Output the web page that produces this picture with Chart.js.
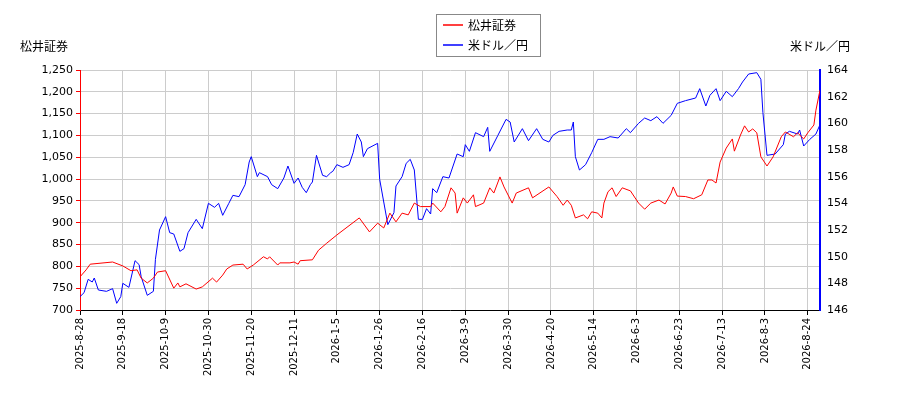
<!DOCTYPE html>
<html><head><meta charset="utf-8">
<script src="https://cdn.jsdelivr.net/npm/chart.js@4/dist/chart.umd.min.js"></script>
<style>body{margin:0;background:#fff}#w{width:900px;height:400px}</style></head>
<body><div id="w"><canvas id="c"></canvas></div>
<script>
const tickLabels=["2025-8-28","2025-9-18","2025-10-9","2025-10-30","2025-11-20","2025-12-11","2026-1-5","2026-1-26","2026-2-16","2026-3-9","2026-3-30","2026-4-20","2026-5-14","2026-6-3","2026-6-23","2026-7-13","2026-8-3","2026-8-24"];
const redDays=[0,3,5,16,21,25,28,30,33,36,38,42,46,48,49,52,57,60,65,67,70,72,75,80,82,85,90,92,93,97,98,103,105,107,108,114,117,121,126,137,142,146,149,152,155,158,161,164,167,172,173,177,179,182,184,185,188,190,193,194,198,201,203,206,208,212,214,220,222,230,234,237,239,241,243,247,249,251,254,256,257,259,261,263,266,270,274,277,280,284,287,290,291,293,297,301,305,308,310,312,314,317,320,321,324,326,328,330,332,334,337,340,344,346,350,352,355,357,360,361,363];
const redVals=[776,792,805,810,801,790,792,773,762,773,787,790,750,762,753,760,748,753,773,764,780,794,803,805,794,803,822,817,822,803,808,808,810,805,813,815,837,853,872,911,879,899,888,922,902,922,918,945,937,937,945,925,937,980,968,922,957,945,964,937,945,980,968,1005,982,945,968,980,957,982,960,940,952,940,911,918,909,925,922,911,945,971,980,960,980,973,945,931,945,952,943,968,982,961,960,955,964,998,998,991,1039,1071,1092,1064,1101,1122,1108,1115,1106,1051,1030,1051,1097,1108,1097,1106,1092,1106,1124,1158,1204];
const blueDays=[0,2,4,6,7,9,13,16,18,20,21,24,27,29,30,33,36,37,39,42,44,46,49,51,53,57,60,63,66,68,70,73,75,78,81,83,84,87,88,92,94,97,100,102,105,107,109,111,113,114,116,119,121,123,124,126,129,132,134,136,138,139,141,146,147,151,154,155,158,160,162,164,166,168,170,172,173,175,178,181,185,188,189,191,194,198,200,201,205,209,211,213,217,220,224,227,230,232,235,239,241,242,243,245,248,251,254,257,260,264,268,270,274,277,280,283,286,290,293,297,302,304,307,309,312,314,317,320,323,325,328,332,334,335,337,341,345,346,348,352,353,355,358,361,363];
const blueVals=[147.0,147.3,148.3,148.1,148.4,147.5,147.4,147.6,146.5,147.0,148.0,147.7,149.7,149.4,148.5,147.1,147.4,149.8,152.0,153.0,151.8,151.7,150.4,150.6,151.8,152.8,152.1,154.0,153.7,154.0,153.1,154.0,154.6,154.5,155.4,157.1,157.5,156.0,156.3,156.0,155.4,155.1,155.9,156.8,155.5,155.9,155.2,154.8,155.4,155.6,157.6,156.1,156.0,156.3,156.4,156.9,156.7,156.9,157.8,159.2,158.6,157.5,158.1,158.5,155.8,152.4,153.3,155.3,156.0,157.0,157.3,156.5,152.8,152.8,153.6,153.2,155.1,154.8,156.0,155.9,157.7,157.5,158.4,157.9,159.3,159.0,159.7,157.9,159.1,160.3,160.1,158.6,159.6,158.7,159.6,158.8,158.6,159.1,159.4,159.5,159.5,160.1,157.5,156.5,156.9,157.8,158.8,158.8,159.0,158.9,159.6,159.3,160.0,160.4,160.2,160.5,160.0,160.6,161.5,161.7,161.9,162.6,161.3,162.1,162.6,161.7,162.4,162.0,162.6,163.1,163.7,163.8,163.3,160.8,157.6,157.7,158.4,159.2,159.4,159.2,159.5,158.3,158.8,159.2,159.9];
const toPts=(d,v)=>d.map((x,i)=>({x:x,y:v[i]}));
const deco={id:'deco',afterDraw(ch){const c=ch.ctx;c.save();
c.font='12px "Noto Sans CJK JP"';c.fillStyle='#000';c.textBaseline='middle';
c.textAlign='left';c.fillText('松井証券',20,46);c.textAlign='right';c.fillText('米ドル／円',850,46);
c.strokeStyle='#888';c.lineWidth=1;c.strokeRect(436.5,14.5,104,42);
c.lineWidth=1.5;c.strokeStyle='red';c.beginPath();c.moveTo(443,25);c.lineTo(463,25);c.stroke();
c.strokeStyle='blue';c.beginPath();c.moveTo(443,45);c.lineTo(463,45);c.stroke();
c.textAlign='left';c.fillText('松井証券',468,25);c.fillText('米ドル／円',468,45);c.restore();}};
new Chart(document.getElementById('c'),{type:'line',
data:{datasets:[
{label:'松井証券',data:toPts(redDays,redVals),borderColor:'red',borderWidth:1,pointRadius:0,yAxisID:'y',tension:0},
{label:'米ドル／円',data:toPts(blueDays,blueVals),borderColor:'blue',borderWidth:1,pointRadius:0,yAxisID:'y1',tension:0}]},
options:{responsive:true,maintainAspectRatio:false,animation:false,
layout:{padding:{top:70,left:0,right:0,bottom:0}},
plugins:{legend:{display:false},tooltip:{enabled:false}},
scales:{
x:{type:'linear',min:0,max:363,afterBuildTicks(s){s.ticks=tickLabels.map((_,i)=>({value:i*21}));},
ticks:{autoSkip:false,maxRotation:90,minRotation:90,color:'#000',font:{size:10,family:'DejaVu Sans'},callback:(v)=>tickLabels[Math.round(v/21)]},
grid:{color:'#ccc',tickColor:'#000',tickLength:5},border:{color:'#000'},afterFit(s){s.height=90;}},
y:{position:'left',min:700,max:1250,ticks:{stepSize:50,color:'#000',font:{size:11,family:'DejaVu Sans'}},
grid:{color:'#ccc',tickColor:'red',tickLength:4},border:{color:'red'},afterFit(s){s.width=80;}},
y1:{position:'right',min:146,max:164,ticks:{stepSize:2,color:'#000',font:{size:11,family:'DejaVu Sans'}},
grid:{display:false,tickColor:'blue',tickLength:4,drawOnChartArea:false},border:{color:'blue',width:2},afterFit(s){s.width=80;}}}},
plugins:[deco]});
</script></body></html>
